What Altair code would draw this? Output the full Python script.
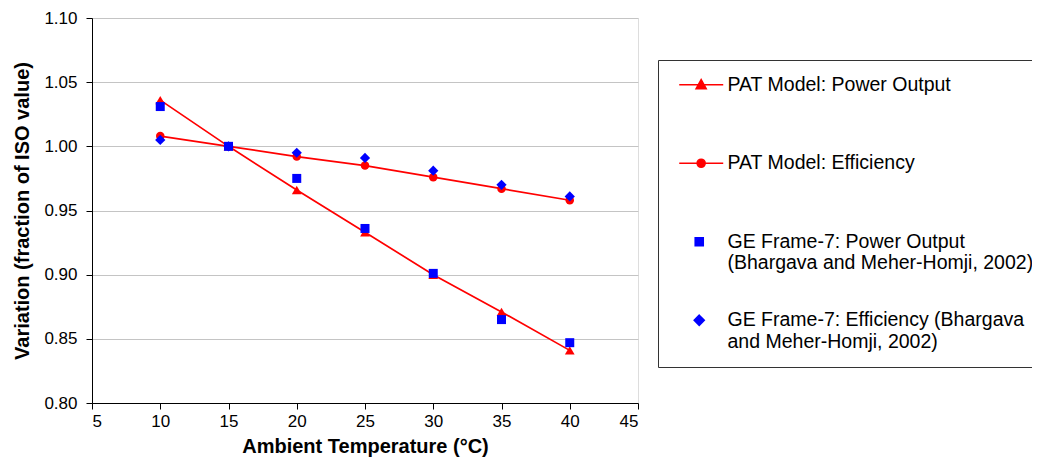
import altair as alt
import pandas as pd

# ---- data ----
temps = [10, 15, 20, 25, 30, 35, 40]
pat_power = [1.036, 1.000, 0.966, 0.933, 0.900, 0.871, 0.841]
pat_eff = [1.008, 1.000, 0.992, 0.985, 0.976, 0.967, 0.958]
ge_power = [1.031, 1.000, 0.975, 0.936, 0.901, 0.865, 0.847]
ge_eff = [1.005, 1.000, 0.995, 0.991, 0.981, 0.970, 0.961]

series_names = ["PAT Model: Power Output", "PAT Model: Efficiency",
                "GE Frame-7: Power Output", "GE Frame-7: Efficiency"]
series_values = [pat_power, pat_eff, ge_power, ge_eff]
series_colors = ["#ff0000", "#ff0000", "#0000ff", "#0000ff"]
series_shapes = ["triangle-up", "circle", "square", "diamond"]
series_sizes = [95, 72, 81, 105]
line_series = ["PAT Model: Power Output", "PAT Model: Efficiency"]

legend_labels = ["PAT Model: Power Output| ",
                 "PAT Model: Efficiency| ",
                 "GE Frame-7: Power Output|(Bhargava and Meher-Homji, 2002)",
                 "GE Frame-7: Efficiency (Bhargava|and Meher-Homji, 2002)"]
legend_paths = [
    "M-0.44,0H5.06M2.3,-0.625L2.925,0.5L1.675,0.5Z",
    "M-0.44,0H5.06M1.8,0A0.5,0.5 0 1,0 2.8,0A0.5,0.5 0 1,0 1.8,0Z",
    "M1.56,-0.5H2.56V0.5H1.56Z",
    "M2.06,-0.625L2.685,0L2.06,0.625L1.435,0Z",
]

x_ticks = [5, 10, 15, 20, 25, 30, 35, 40, 45]
y_ticks = [0.80, 0.85, 0.90, 0.95, 1.00, 1.05, 1.10]

rows = []
for name, vals in zip(series_names, series_values):
    for t, v in zip(temps, vals):
        rows.append({"temp": t, "value": v, "series": name})
df = pd.DataFrame(rows)
legend_df = pd.DataFrame({"legend": legend_labels})

FONT = "Liberation Sans"

x_enc = alt.X("temp:Q", scale=alt.Scale(domain=[5, 45], nice=False, zero=False),
              axis=alt.Axis(values=x_ticks, title="Ambient Temperature (°C)", grid=False,
                            labelFontSize=17, titleFontSize=20, titleFontWeight="bold",
                            tickSize=6, labelPadding=4, titlePadding=7,
                            domainColor="black", tickColor="black",
                            labelColor="black", titleColor="black"))
y_enc = alt.Y("value:Q", scale=alt.Scale(domain=[0.8, 1.1], nice=False, zero=False),
              axis=alt.Axis(values=y_ticks, format=".2f",
                            title="Variation (fraction of ISO value)",
                            grid=True, gridColor="#c4c4c4", gridWidth=1,
                            labelFontSize=17, titleFontSize=20, titleFontWeight="bold",
                            tickSize=6, labelPadding=9, titlePadding=11,
                            domainColor="black", tickColor="black",
                            labelColor="black", titleColor="black"))

base = alt.Chart(df)

lines = base.transform_filter(
    alt.FieldOneOfPredicate(field="series", oneOf=line_series)
).mark_line(color="#ff0000", strokeWidth=1.7).encode(
    x=x_enc, y=y_enc, detail="series:N"
)

point_layers = []
for name, col, shp, sz in zip(series_names, series_colors, series_shapes, series_sizes):
    point_layers.append(
        base.transform_filter(alt.datum.series == name)
        .mark_point(filled=True, opacity=1, color=col, shape=shp, size=sz)
        .encode(x=x_enc, y=y_enc)
    )

leg = alt.Legend(title=None, orient="none", legendX=566, legendY=42,
                 direction="vertical", symbolSize=256, symbolStrokeWidth=1.6,
                 labelFontSize=19.5, labelFont=FONT, labelColor="black",
                 labelExpr="split(datum.label, '|')", labelLimit=500,
                 labelOffset=35, rowPadding=36.5, padding=15,
                 strokeColor="#333333", fillColor="white", symbolOpacity=1)

legend_layer = alt.Chart(legend_df).transform_filter("false").mark_point(filled=True).encode(
    shape=alt.Shape("legend:N", scale=alt.Scale(domain=legend_labels, range=legend_paths), legend=leg),
    fill=alt.Fill("legend:N", scale=alt.Scale(domain=legend_labels, range=series_colors), legend=leg),
    stroke=alt.Stroke("legend:N", scale=alt.Scale(domain=legend_labels, range=series_colors), legend=leg),
)

chart = alt.layer(lines, *point_layers, legend_layer).properties(
    width=546, height=385,
    autosize=alt.AutoSizeParams(type="none"),
    padding={"left": 84, "top": 10, "right": 394, "bottom": 55},
).configure_view(
    stroke="#808080", strokeWidth=1.5
).configure(
    font=FONT, background="white"
).configure_axis(labelFont=FONT, titleFont=FONT)

chart.save("out.html", embed_options={"renderer": "svg", "actions": False})
